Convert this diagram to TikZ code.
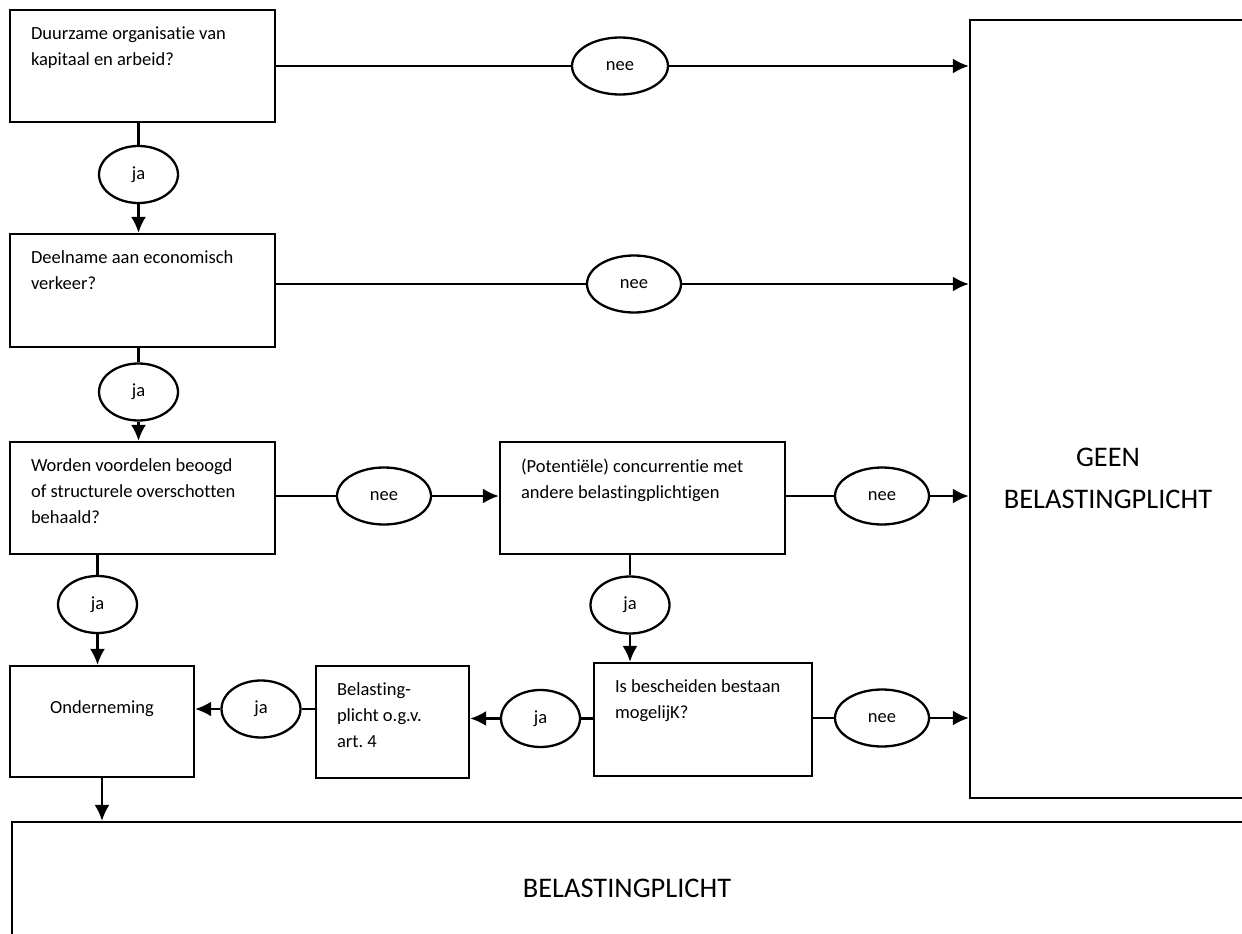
\documentclass[tikz,border=0pt]{standalone}
\usepackage{fontspec}
\setmainfont{Carlito}[Ligatures=NoCommon]
\usetikzlibrary{shapes.geometric,arrows.meta}
\frenchspacing
\begin{document}
\begin{tikzpicture}[x=1pt,y=-1pt,>={Latex[length=16pt,width=15pt]},line width=2.3pt,
    box/.style={draw,rectangle,inner sep=0pt},
    oval/.style={draw,ellipse,minimum width=79pt,minimum height=57pt,inner sep=0pt,font=\fontsize{18.5}{22}\selectfont},
    txt/.style={anchor=north west,align=left,inner sep=0pt,xshift=21pt,yshift=-17pt,font=\fontsize{18.5}{26}\selectfont},
    big/.style={align=center,inner sep=0pt,font=\fontsize{28.4}{42}\selectfont}]
\useasboundingbox (0,0) rectangle (1242,934);
% vragen
\node[box,minimum width=265pt,minimum height=112pt] (q1) at (142.5,66) {};
\node[txt] (t1) at (q1.north west) {Duurzame organisatie van\\kapitaal en arbeid?};
\node[box,minimum width=265pt,minimum height=113pt] (q2) at (142.5,290.5) {};
\node[txt] (t2) at (q2.north west) {Deelname aan economisch\\verkeer?};
\node[box,minimum width=265pt,minimum height=112pt] (q3) at (142.5,498) {};
\node[txt] (t3) at (q3.north west) {Worden voordelen beoogd\\of structurele overschotten\\behaald?};
\node[box,minimum width=285pt,minimum height=112pt] (q4) at (642.5,498) {};
\node[txt] (t4) at (q4.north west) {(Potentiële) concurrentie met\\andere belastingplichtigen};
\node[box,minimum width=218pt,minimum height=113pt] (q5) at (703,719.5) {};
\node[txt] (t5) at (q5.north west) {Is bescheiden bestaan\\mogelijK?};
\node[box,minimum width=153pt,minimum height=112pt] (art4) at (392.5,722) {};
\node[txt] (t6) at (art4.north west) {Belasting-\\plicht o.g.v.\\art. 4};
\node[box,minimum width=184pt,minimum height=111pt] (onder) at (102,721.5) {};
\node[inner sep=0pt,font=\fontsize{18.5}{26}\selectfont] (t7) at (102,709) {Onderneming};
% uitkomsten
\node[box,minimum width=280pt,minimum height=778pt] (geen) at (1110,409) {};
\node[big] (t8) at (1108,478) {GEEN\\BELASTINGPLICHT};
\node[box,minimum width=1250pt,minimum height=138pt] (plicht) at (637,891) {};
\node[big] (t9) at (627,888) {BELASTINGPLICHT};
% ja / nee
\node[oval,minimum width=96pt] (n1) at (620,66) {nee};
\node[oval,minimum width=94pt] (n2) at (634,284) {nee};
\node[oval,minimum width=94pt] (n3) at (384,496) {nee};
\node[oval,minimum width=94pt] (n4) at (882,496) {nee};
\node[oval,minimum width=94pt] (n5) at (882,718) {nee};
\node[oval] (j1) at (138.5,174.5) {ja};
\node[oval] (j2) at (138.5,392) {ja};
\node[oval] (j3) at (97.5,604.5) {ja};
\node[oval] (j4) at (630,605) {ja};
\node[oval] (j5) at (540.5,718.5) {ja};
\node[oval] (j6) at (261,709) {ja};
% pijlen
\draw (q1) -- (n1);
\draw[->] (n1) -- (n1 -| geen.west);
\draw (q1.south -| j1) -- (j1);
\draw[->] (j1) -- (j1 |- q2.north);
\draw (q2.east |- n2) -- (n2);
\draw[->] (n2) -- (n2 -| geen.west);
\draw (q2.south -| j2) -- (j2);
\draw[->] (j2) -- (j2 |- q3.north);
\draw (q3.east |- n3) -- (n3);
\draw[->] (n3) -- (n3 -| q4.west);
\draw (q4.east |- n4) -- (n4);
\draw[->] (n4) -- (n4 -| geen.west);
\draw (q3.south -| j3) -- (j3);
\draw[->] (j3) -- (j3 |- onder.north);
\draw (q4.south -| j4) -- (j4);
\draw[->] (j4) -- (j4 |- q5.north);
\draw (q5.east |- n5) -- (n5);
\draw[->] (n5) -- (n5 -| geen.west);
\draw (q5.west |- j5) -- (j5);
\draw[->] (j5) -- (j5 -| art4.east);
\draw (art4.west |- j6) -- (j6);
\draw[->] (j6) -- (j6 -| onder.east);
\draw[->] (onder) -- (onder |- plicht.north);
\end{tikzpicture}
\end{document}
